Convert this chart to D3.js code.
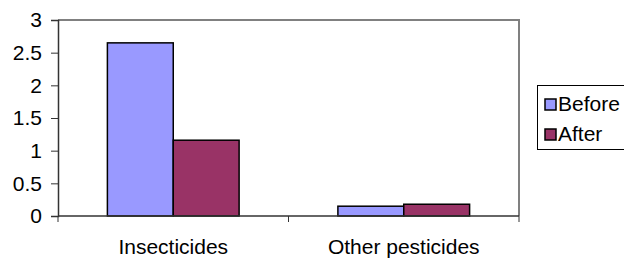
<!DOCTYPE html>
<html><head><meta charset="utf-8">
<script src="https://cdn.jsdelivr.net/npm/d3@7"></script>
<style>body{margin:0;background:#fff;} svg{display:block;font-family:"Liberation Sans",Arial,sans-serif;}</style>
</head><body>
<svg id="c" width="624" height="260"></svg>
<script>
const categories = ["Insecticides", "Other pesticides"];
const seriesNames = ["Before", "After"];
const beforeValues = [2.65, 0.15];
const afterValues = [1.16, 0.18];
const yTicks = [0, 0.5, 1, 1.5, 2, 2.5, 3];
const yTickLabels = ["0", "0.5", "1", "1.5", "2", "2.5", "3"];
const colors = ["#9999FF", "#993366"];

const svg = d3.select("#c");
const m = {l: 58, t: 20, r: 519, b: 216};
const x = d3.scaleBand().domain(categories).range([m.l, m.r]);
const xs = d3.scaleBand().domain(seriesNames).range([0, x.bandwidth()]).paddingInner(0).paddingOuter(0.75);
const y = d3.scaleLinear().domain([0, 3]).range([m.b, m.t]);

// plot border (top/right gray)
svg.append("path").attr("d", `M${m.l},${m.t}H${m.r}V${m.b}`).attr("fill","none").attr("stroke","#808080").attr("stroke-width",2);

const data = categories.map((c,i)=>({c, vals:[beforeValues[i], afterValues[i]]}));
const g = svg.append("g");
data.forEach(d=>{
  d.vals.forEach((v,j)=>{
    g.append("rect")
      .attr("x", x(d.c)+xs(seriesNames[j]))
      .attr("y", y(v))
      .attr("width", xs.bandwidth())
      .attr("height", y(0)-y(v))
      .attr("fill", colors[j])
      .attr("stroke","#000").attr("stroke-width",1.5);
  });
});

// y axis
const yAxis = d3.axisLeft(y).tickValues(yTicks).tickFormat((d,i)=>yTickLabels[i]).tickSize(7).tickPadding(9);
const ga = svg.append("g").attr("transform",`translate(${m.l},0)`).call(yAxis);
ga.select(".domain").attr("stroke","#333").attr("stroke-width",1.5);
ga.selectAll(".tick line").attr("stroke","#333");
ga.selectAll("text").attr("font-size",21).attr("fill","#000").attr("font-family","Liberation Sans, Arial, sans-serif");

// x axis
const gx = svg.append("g").attr("transform",`translate(0,${m.b})`);
gx.append("line").attr("x1",m.l).attr("x2",m.r).attr("y1",0).attr("y2",0).attr("stroke","#333").attr("stroke-width",1.5);
const edges = [m.l, ...categories.map(c=>x(c)+x.bandwidth())];
edges.forEach(e=>gx.append("line").attr("x1",e).attr("x2",e).attr("y1",0).attr("y2",6).attr("stroke","#333"));
categories.forEach(c=>{
  gx.append("text").attr("x", x(c)+x.bandwidth()/2).attr("y", 38).attr("text-anchor","middle")
    .attr("font-size",21).text(c);
});

// legend
const lg = svg.append("g");
lg.append("rect").attr("x",537.5).attr("y",85.5).attr("width",120).attr("height",64).attr("fill","#fff").attr("stroke","#000").attr("stroke-width",1);
seriesNames.forEach((s,i)=>{
  const yy = 99 + i*30;
  lg.append("rect").attr("x",545).attr("y",yy).attr("width",11).attr("height",11).attr("fill",colors[i]).attr("stroke","#000").attr("stroke-width",1.5);
  lg.append("text").attr("x",558).attr("y",yy+11.5).attr("font-size",21).text(s);
});
</script>
</body></html>
